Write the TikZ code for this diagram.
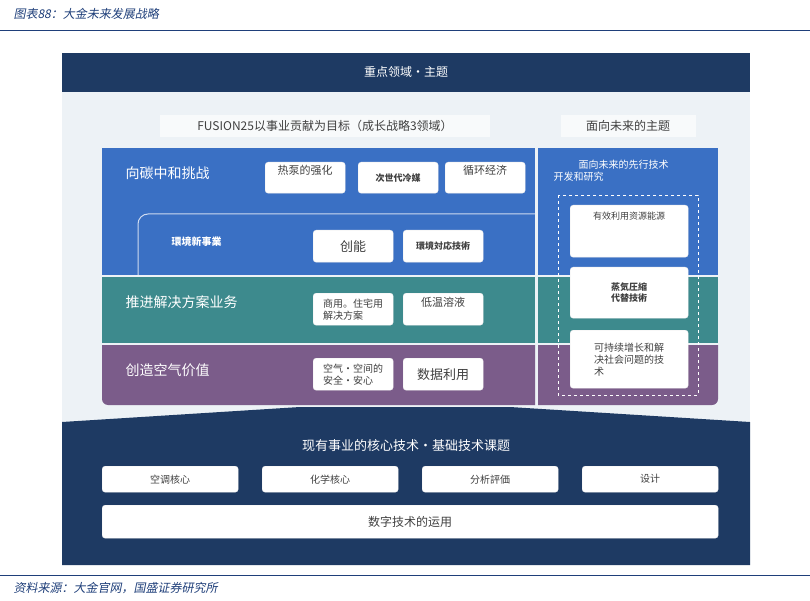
\documentclass[tikz,border=0pt]{standalone}
\usepackage{fontspec}
\setmainfont{Noto Sans CJK SC}
\newfontfamily\cjkit[FakeSlant=0.2]{Noto Sans CJK SC}
\usetikzlibrary{positioning}
\definecolor{navy}{HTML}{1E3A63}
\definecolor{paleblue}{HTML}{EDF2F6}
\definecolor{zoneblue}{HTML}{3A70C4}
\definecolor{zoneteal}{HTML}{3D8A8D}
\definecolor{zonepurple}{HTML}{7B5C8A}
\definecolor{captionblue}{HTML}{1F3F7A}
\begin{document}
\begin{tikzpicture}[x=1pt,y=-1pt,
    font=\fontsize{11}{13}\selectfont,
    % styles
    chip/.style={fill=white, draw=white!85!gray, rounded corners=3pt, text=black!75, align=left, font=\fontsize{11}{13}\selectfont},
    boldchip/.style={chip, align=center, font=\fontsize{9}{11}\selectfont\bfseries},
    zonelabel/.style={anchor=west, text=white, font=\fontsize{14}{16}\selectfont},
    headtext/.style={text=white, font=\fontsize{12}{14}\selectfont}
]
    \useasboundingbox (0,0) rectangle (810,601);
    \fill[white] (0,0) rectangle (810,601);

    % --- caption ---
    \node[anchor=west, text=captionblue, font=\fontsize{12}{14}\cjkit] (caption) at (10,14) {图表88：大金未来发展战略};
    \draw[captionblue, line width=0.8pt] (0,30) -- (810,30);

    % --- outer panel ---
    \fill[paleblue] (62,53) rectangle (750,430);
    \fill[navy] (62,53) rectangle (750,92);
    \node[headtext] (focus) at (406,72) {重点领域・主题};

    \node[fill=white!60!paleblue, minimum width=330pt, minimum height=22pt, font=\fontsize{12}{14}\selectfont, text=black!75] (fusion) at (325,126) {FUSION25以事业贡献为目标（成长战略3领域）};
    \node[fill=white!60!paleblue, minimum width=135pt, minimum height=22pt, font=\fontsize{12}{14}\selectfont, text=black!75] (future) at (628,126) {面向未来的主题};

    % --- three zones ---
    \fill[zoneblue] (102,148) rectangle (535,275);
    \fill[zoneteal] (102,277) rectangle (535,343);
    \begin{scope}
        \clip (102,345) rectangle (535,405);
        \fill[zonepurple, rounded corners=6pt] (102,330) rectangle (550,405);
    \end{scope}
    \fill[zoneblue] (538,148) rectangle (718,275);
    \fill[zoneteal] (538,277) rectangle (718,343);
    \begin{scope}
        \clip (538,345) rectangle (718,405);
        \fill[zonepurple, rounded corners=6pt] (520,330) rectangle (718,405);
    \end{scope}
    \draw[white!75!zoneblue, line width=1pt, rounded corners=10pt] (138,275) -- (138,214) -- (535,214);

    \node[zonelabel] (carbon) at (122,173) {向碳中和挑战};
    \node[zonelabel, font=\fontsize{10}{12}\selectfont\bfseries] (envbiz) at (168,242) {環境新事業};
    \node[zonelabel] (solution) at (122,302) {推进解决方案业务};
    \node[zonelabel] (airvalue) at (122,370) {创造空气价值};

    \node[chip, minimum width=80pt, minimum height=31pt, anchor=north west, text height=8pt, text depth=14pt] (heatpump) at (265,162) {热泵的强化};
    \node[boldchip, minimum width=80pt, minimum height=31pt, anchor=north west] (refrigerant) at (358,162) {次世代冷媒};
    \node[chip, minimum width=80pt, minimum height=31pt, anchor=north west, text height=8pt, text depth=14pt] (circular) at (445,162) {循环经济};
    \node[chip, minimum width=80pt, minimum height=32pt, anchor=north west, align=center, font=\fontsize{13}{15}\selectfont] (energy) at (313,230) {创能};
    \node[boldchip, minimum width=80pt, minimum height=32pt, anchor=north west] (envtech) at (403,230) {環境対応技術};
    \node[chip, minimum width=80pt, minimum height=32pt, anchor=north west, inner sep=2pt, font=\fontsize{10}{12}\selectfont] (commercial) at (313,293) {商用。住宅用\\解决方案};
    \node[chip, minimum width=80pt, minimum height=32pt, anchor=north west, text height=8pt, text depth=14pt] (lowtemp) at (403,293) {低温溶液};
    \node[chip, minimum width=80pt, minimum height=32pt, anchor=north west, inner sep=2pt, font=\fontsize{10}{12}\selectfont] (safety) at (313,358) {空气・空间的\\安全・安心};
    \node[chip, minimum width=80pt, minimum height=32pt, anchor=north west, align=center, font=\fontsize{13}{15}\selectfont] (datause) at (403,358) {数据利用};

    % --- future column ---
    \node[anchor=north west, text=white, align=left, font=\fontsize{10}{12}\selectfont] (advance) at (550,157) {\hspace{2.5em}面向未来的先行技术\\开发和研究};
    \draw[white, dashed, line width=0.9pt] (558,195) rectangle (698,395);
    \node[chip, minimum width=118pt, minimum height=52pt, anchor=north west, align=center, text height=7pt, text depth=30pt, font=\fontsize{9}{11}\selectfont] (resource) at (570,205) {有效利用资源能源};
    \node[boldchip, minimum width=118pt, minimum height=51pt, anchor=north west] (steam) at (570,267) {蒸気圧縮\\代替技術};
    \node[chip, minimum width=118pt, minimum height=58pt, anchor=north west, font=\fontsize{10}{12}\selectfont, inner xsep=20pt] (sustain) at (570,330) {可持续增长和解\\决社会问题的技\\术};

    % --- base technology ---
    \fill[navy] (62,422) -- (300,407) -- (510,407) -- (750,422) -- (750,565) -- (62,565) -- cycle;
    \node[headtext, font=\fontsize{13}{15}\selectfont] (core) at (406,446) {现有事业的核心技术・基础技术课题};
    \foreach \name/\txt/\xx in {aircon/空调核心/102, chem/化学核心/262, analysis/分析評価/422, design/设计/582}
        \node[chip, align=center, minimum width=136pt, minimum height=26pt, anchor=north west, font=\fontsize{10}{12}\selectfont] (\name) at (\xx,466) {\txt};
    \node[chip, align=center, minimum width=616pt, minimum height=33pt, anchor=north west, font=\fontsize{12}{14}\selectfont] (digital) at (102,505) {数字技术的运用};

    % --- source ---
    \draw[captionblue, line width=0.8pt] (0,575) -- (810,575);
    \node[anchor=west, text=captionblue, font=\fontsize{12}{14}\cjkit] (source) at (10,588) {资料来源：大金官网，国盛证券研究所};
\end{tikzpicture}
\end{document}
